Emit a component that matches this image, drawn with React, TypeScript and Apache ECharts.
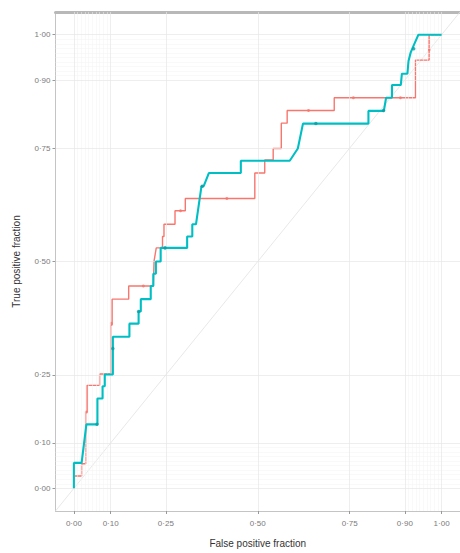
import React, { useEffect, useRef } from "react";
import * as echarts from "echarts";

const majorBreaks = [0, 0.1, 0.25, 0.5, 0.75, 0.9, 1];
const minorBreaks = [
  0.01, 0.02, 0.03, 0.04, 0.05, 0.06, 0.07, 0.08, 0.09,
  0.91, 0.92, 0.93, 0.94, 0.95, 0.96, 0.97, 0.98, 0.99,
];

// ROC curve A (red): [false positive fraction, true positive fraction]
const redFpr = [
  0, 0, 0.021, 0.021, 0.032, 0.032, 0.036, 0.036, 0.07, 0.07, 0.1, 0.1, 0.104, 0.104,
  0.149, 0.149, 0.216, 0.218, 0.224, 0.241, 0.241, 0.245, 0.245, 0.275, 0.275, 0.303,
  0.303, 0.492, 0.492, 0.519, 0.519, 0.542, 0.542, 0.564, 0.564, 0.58, 0.58, 0.708,
  0.708, 0.929, 0.929, 0.966, 0.966, 1,
];
const redTpr = [
  0, 0.027, 0.027, 0.054, 0.054, 0.168, 0.168, 0.227, 0.227, 0.252, 0.252, 0.36, 0.36,
  0.417, 0.417, 0.446, 0.446, 0.501, 0.53, 0.53, 0.555, 0.555, 0.582, 0.582, 0.612,
  0.612, 0.639, 0.639, 0.695, 0.695, 0.724, 0.724, 0.749, 0.749, 0.805, 0.805, 0.833,
  0.833, 0.861, 0.861, 0.944, 0.944, 1, 1,
];
const redCutFpr = [0.034, 0.102, 0.189, 0.29, 0.416, 0.638, 0.76, 0.888, 0.967];
const redCutTpr = [0.168, 0.364, 0.446, 0.612, 0.639, 0.833, 0.861, 0.861, 0.967];

// ROC curve B (cyan)
const cyanFpr = [
  0, 0, 0.021, 0.034, 0.064, 0.064, 0.078, 0.078, 0.084, 0.084, 0.106, 0.106, 0.151,
  0.151, 0.176, 0.176, 0.182, 0.182, 0.209, 0.209, 0.216, 0.216, 0.223, 0.223, 0.236,
  0.236, 0.308, 0.308, 0.322, 0.322, 0.332, 0.347, 0.353, 0.367, 0.454, 0.454, 0.587,
  0.609, 0.623, 0.801, 0.801, 0.843, 0.849, 0.865, 0.865, 0.889, 0.892, 0.907, 0.91,
  0.916, 0.925, 0.937, 1,
];
const cyanTpr = [
  0, 0.056, 0.056, 0.141, 0.141, 0.198, 0.198, 0.225, 0.225, 0.251, 0.251, 0.334, 0.334,
  0.363, 0.363, 0.39, 0.39, 0.417, 0.417, 0.446, 0.446, 0.473, 0.473, 0.5, 0.5, 0.53,
  0.53, 0.555, 0.555, 0.582, 0.582, 0.666, 0.666, 0.695, 0.695, 0.722, 0.722, 0.749,
  0.804, 0.804, 0.832, 0.832, 0.861, 0.861, 0.889, 0.889, 0.914, 0.914, 0.942, 0.961,
  0.978, 1, 1,
];
const cyanCutFpr = [0.063, 0.106, 0.176, 0.248, 0.349, 0.658, 0.842, 0.924];
const cyanCutTpr = [0.141, 0.308, 0.39, 0.53, 0.666, 0.804, 0.833, 0.969];

const diagonal = [-0.05, 1.05];

const RED = "#F8766D";
const CYAN = "#00BFC4";

const fmt = (v: number) => v.toFixed(2).replace(".", "\u00b7");
const zip = (a: number[], b: number[]) => a.map((v, i) => [v, b[i]]);

export default function App() {
  const ref = useRef<HTMLDivElement>(null);
  useEffect(() => {
    if (!ref.current) return;
    const chart = echarts.init(ref.current, null, { renderer: "svg" });
    const labelStyle = {
      color: "#7a7a7a",
      fontSize: 8,
      fontFamily: "Liberation Sans, Arial, sans-serif",
    };
    chart.setOption({
      animation: false,
      backgroundColor: "#ffffff",
      grid: { left: 55.5, top: 12, width: 406, height: 505, containLabel: false },
      xAxis: [
        {
          type: "value",
          min: -0.05,
          max: 1.05,
          name: "False positive fraction",
          nameLocation: "middle",
          nameGap: 27,
          nameTextStyle: {
            color: "#333",
            fontSize: 10,
            fontFamily: "Liberation Sans, Arial, sans-serif",
          },
          axisLine: { show: true, onZero: false, lineStyle: { color: "#c4c4c4", width: 1 } },
          axisTick: {
            show: true,
            customValues: majorBreaks,
            length: 3,
            lineStyle: { color: "#999" },
          },
          axisLabel: { ...labelStyle, customValues: majorBreaks, formatter: fmt, margin: 8 },
          splitLine: { show: false },
        },
        {
          type: "value",
          position: "top",
          min: -0.05,
          max: 1.05,
          axisLine: { show: true, onZero: false, lineStyle: { color: "#b8b8b8", width: 3 } },
          axisTick: { show: false },
          axisLabel: { show: false },
          splitLine: { show: false },
        },
      ],
      yAxis: {
        type: "value",
        min: -0.05,
        max: 1.05,
        name: "True positive fraction",
        nameLocation: "middle",
        nameGap: 34,
        nameRotate: 90,
        nameTextStyle: {
          color: "#333",
          fontSize: 10,
          fontFamily: "Liberation Sans, Arial, sans-serif",
        },
        axisLine: { show: true, onZero: false, lineStyle: { color: "#c4c4c4", width: 1 } },
        axisTick: {
          show: true,
          customValues: majorBreaks,
          length: 3,
          lineStyle: { color: "#999" },
        },
        axisLabel: { ...labelStyle, customValues: majorBreaks, formatter: fmt, margin: 5 },
        splitLine: { show: false },
      },
      series: [
        {
          type: "line",
          data: [[0, 0]],
          symbol: "none",
          lineStyle: { opacity: 0 },
          silent: true,
          z: 1,
          markLine: {
            silent: true,
            symbol: ["none", "none"],
            label: { show: false },
            lineStyle: { color: "#f3f3f3", width: 0.5, type: "solid" },
            data: [
              ...minorBreaks.map((v) => ({ xAxis: v })),
              ...minorBreaks.map((v) => ({ yAxis: v })),
            ],
          },
        },
        {
          type: "line",
          data: [[0, 0]],
          symbol: "none",
          lineStyle: { opacity: 0 },
          silent: true,
          z: 1,
          markLine: {
            silent: true,
            symbol: ["none", "none"],
            label: { show: false },
            lineStyle: { color: "#e6e6e6", width: 0.7, type: "solid" },
            data: [
              ...majorBreaks.map((v) => ({ xAxis: v })),
              ...majorBreaks.map((v) => ({ yAxis: v })),
            ],
          },
        },
        {
          type: "line",
          data: zip(diagonal, diagonal),
          symbol: "none",
          lineStyle: { color: "#e2e2e2", width: 0.8 },
          silent: true,
          z: 2,
        },
        {
          type: "line",
          data: zip(redFpr, redTpr),
          symbol: "none",
          lineStyle: { color: RED, width: 1.4 },
          z: 3,
        },
        {
          type: "scatter",
          data: zip(redCutFpr, redCutTpr),
          symbolSize: 3,
          itemStyle: { color: RED },
          z: 4,
        },
        {
          type: "line",
          data: zip(cyanFpr, cyanTpr),
          symbol: "none",
          lineStyle: { color: CYAN, width: 2.1 },
          z: 5,
        },
        {
          type: "scatter",
          data: zip(cyanCutFpr, cyanCutTpr),
          symbolSize: 3.5,
          itemStyle: { color: "#0a9ea3" },
          z: 6,
        },
      ],
    });
    return () => chart.dispose();
  }, []);
  return (
    <div
      ref={ref}
      style={{ position: "fixed", left: 0, top: 0, width: 460, height: 553, background: "#fff" }}
    />
  );
}
